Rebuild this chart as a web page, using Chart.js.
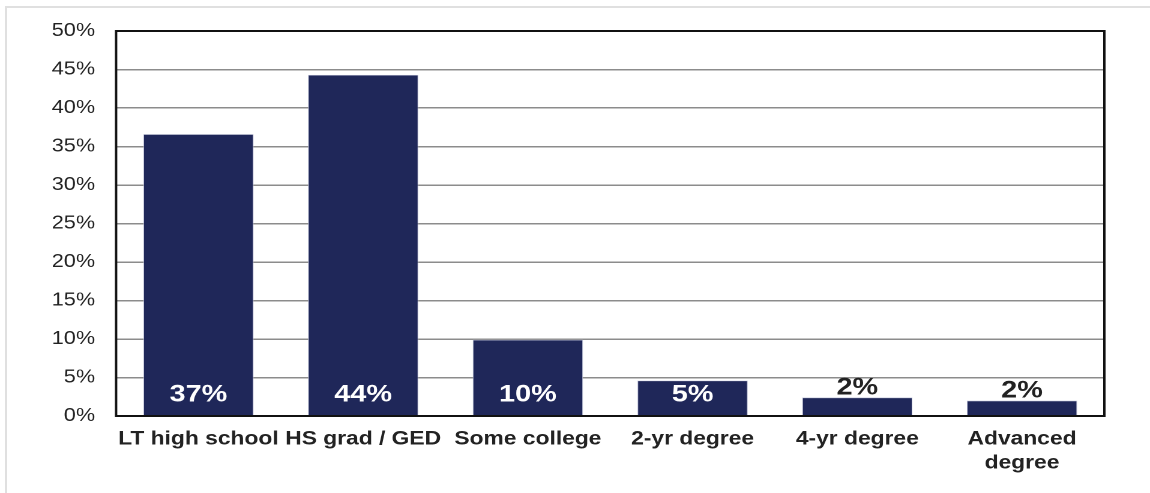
<!DOCTYPE html>
<html>
<head>
<meta charset="utf-8">
<script src="https://cdn.jsdelivr.net/npm/chart.js@4.4.1/dist/chart.umd.min.js"></script>
<style>
  html, body { margin: 0; padding: 0; background: #fff; overflow: hidden; width: 1150px; height: 493px; }
  #frame { position: absolute; left: 5px; top: 6px; width: 1300px; height: 700px;
           border-top: 2px solid #e0e0e0; border-left: 2px solid #e0e0e0; }
  #wrap { position: absolute; left: 0; top: 0; width: 958px; height: 493px;
          transform-origin: 0 0; transform: scaleX(1.2004); }
</style>
</head>
<body>
<div id="frame"></div>
<div id="wrap"><canvas id="c"></canvas></div>
<script>
const categories = ['LT high school', 'HS grad / GED', 'Some college', '2-yr degree', '4-yr degree', ['Advanced', 'degree']];
const shares = [36.6, 44.3, 9.9, 4.6, 2.4, 2.0];
const yTicks = [0, 5, 10, 15, 20, 25, 30, 35, 40, 45, 50];

const FONT = '"Liberation Sans", Arial, Helvetica, sans-serif';

const frameAndLabels = {
  id: 'frameAndLabels',
  afterDatasetsDraw(chart) {
    const ctx = chart.ctx;
    const a = chart.chartArea;
    ctx.save();
    ctx.strokeStyle = '#111';
    ctx.lineWidth = 2;
    ctx.strokeRect(a.left, a.top, a.right - a.left, a.bottom - a.top);
    const meta = chart.getDatasetMeta(0);
    ctx.font = 'bold 24px ' + FONT;
    ctx.textAlign = 'center';
    ctx.textBaseline = 'alphabetic';
    meta.data.forEach((bar, i) => {
      const v = shares[i];
      const txt = Math.round(v) + '%';
      if (v >= 4) {
        ctx.fillStyle = '#ffffff';
        ctx.fillText(txt, bar.x, bar.base - 14);
      } else {
        ctx.fillStyle = '#222222';
        ctx.fillText(txt, bar.x, bar.y - 3);
      }
    });
    ctx.restore();
  }
};

new Chart(document.getElementById('c'), {
  type: 'bar',
  data: {
    labels: categories,
    datasets: [{
      data: shares,
      backgroundColor: '#1f2759',
      borderColor: '#c5c8dc',
      borderWidth: 0.6,
      barPercentage: 0.67,
      categoryPercentage: 1.0
    }]
  },
  options: {
    responsive: true,
    maintainAspectRatio: false,
    devicePixelRatio: 2,
    animation: false,
    layout: { padding: { left: 0, right: 38, top: 31, bottom: 0 } },
    plugins: { legend: { display: false }, tooltip: { enabled: false } },
    scales: {
      x: {
        grid: { display: false, drawTicks: false },
        border: { display: false },
        ticks: {
          color: '#222',
          font: { family: FONT, size: 19, weight: 'bold', lineHeight: 1.27 },
          padding: 11,
          maxRotation: 0,
          autoSkip: false
        },
        afterFit(scale) { scale.height = 77; }
      },
      y: {
        min: 0,
        max: 50,
        afterBuildTicks(scale) { scale.ticks = yTicks.map(v => ({ value: v })); },
        grid: { color: '#8c8c8c', lineWidth: 1.5, drawTicks: false },
        border: { display: false },
        ticks: {
          color: '#222',
          font: { family: FONT, size: 18 },
          padding: 17.5,
          callback: v => v + '%'
        },
        afterFit(scale) { scale.width = 96.7; }
      }
    }
  },
  plugins: [frameAndLabels]
});
</script>
</body>
</html>
